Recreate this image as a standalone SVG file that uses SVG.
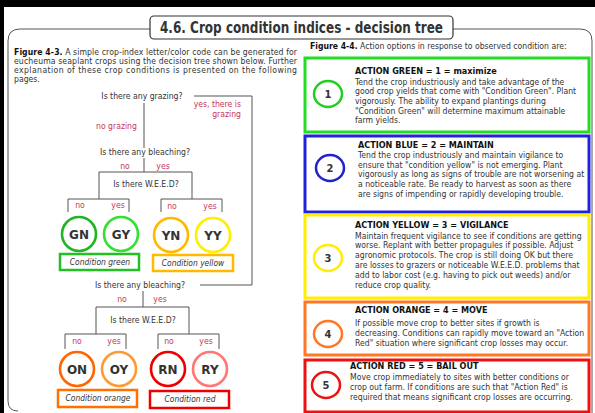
<svg xmlns="http://www.w3.org/2000/svg" width="595" height="413" viewBox="0 0 595 413">
<style>
text{font-family:"DejaVu Sans Condensed","DejaVu Sans",sans-serif;fill:#333}
.t{font-size:8.6px}
.r{font-size:8.6px;fill:#c8365a}
.b{font-size:8.6px}
.h{font-size:9px;font-weight:bold;fill:#111}
.cl{font-size:12px;font-weight:bold;text-anchor:middle;font-family:"DejaVu Sans",sans-serif}
.cap{font-size:8.4px;font-style:italic;text-anchor:middle}
.m{text-anchor:middle}
.ln{fill:none;stroke:#555;stroke-width:1}
.c{fill:#fff;stroke-width:2.6}
.box{fill:#fff;stroke-width:3}
</style>
<rect width="595" height="413" fill="#fff"/>
<rect width="595" height="7" fill="#000"/>
<rect width="4" height="413" fill="#000"/>
<g id="frame">
<path d="M150 29 H20 Q8 29 8 41 V401 Q8 411 18 411" fill="none" stroke="#555" stroke-width="1"/>
<path d="M453 29 H580 Q592 29 592 41 V413" fill="none" stroke="#555" stroke-width="1"/>
<rect x="150" y="16" width="303" height="23" rx="4" fill="#fff" stroke="#333" stroke-width="1.2"/>
<text x="160" y="33" font-size="15" font-weight="bold" fill="#111" textLength="283" lengthAdjust="spacingAndGlyphs" style="font-family:'DejaVu Sans',sans-serif">4.6. Crop condition indices - decision tree</text>
</g>
<g id="caption-left" class="t">
<text x="14" y="55" textLength="283"><tspan font-weight="bold" fill="#111">Figure 4-3.</tspan> A simple crop-index letter/color code can be generated for</text>
<text x="14" y="64" textLength="283">eucheuma seaplant crops using the decision tree shown below. Further</text>
<text x="14" y="73" textLength="283">explanation of these crop conditions is presented on the following</text>
<text x="14" y="82">pages.</text>
</g>
<g id="connectors">
<path class="ln" d="M194 96 H252 V285 H200"/>
<path class="ln" d="M144 103 V148"/>
<path class="ln" d="M144 158 V172"/>
<path class="ln" d="M99 199 V172 H192 V199"/>
<path class="ln" d="M68 212 V199 H129 V212"/>
<path class="ln" d="M161 212 V199 H222 V212"/>
<path class="ln" d="M143 291 V307"/>
<path class="ln" d="M96 334 V307 H189 V334"/>
<path class="ln" d="M65 349 V334 H126 V349"/>
<path class="ln" d="M158 349 V334 H219 V349"/>
</g>
<g id="q-grazing">
<text class="t m" x="142" y="99">Is there any grazing?</text>
<text class="r" x="241" y="107" text-anchor="end">yes, there is</text>
<text class="r" x="241" y="117" text-anchor="end">grazing</text>
<text class="r" x="96" y="129">no grazing</text>
</g>
<g id="q-bleaching-1">
<text class="t m" x="145" y="155">Is there any bleaching?</text>
<text class="r m" x="125" y="169">no</text>
<text class="r m" x="163" y="169">yes</text>
</g>
<g id="q-weed-1">
<text class="t m" x="146" y="187">Is there W.E.E.D?</text>
<text class="r m" x="80" y="208">no</text>
<text class="r m" x="118" y="208">yes</text>
<text class="r m" x="172" y="209">no</text>
<text class="r m" x="210" y="209">yes</text>
</g>
<g id="GN"><circle class="c" cx="79" cy="234" r="17" stroke="#22b522"/><text class="cl" x="79" y="238.5" fill="#22b522">GN</text></g>
<g id="GY"><circle class="c" cx="121" cy="234" r="17" stroke="#33e033"/><text class="cl" x="121" y="238.5" fill="#33d433">GY</text></g>
<g id="YN"><circle class="c" cx="171" cy="235" r="17" stroke="#ffba00"/><text class="cl" x="171" y="239.5" fill="#ffba00">YN</text></g>
<g id="YY"><circle class="c" cx="213" cy="235" r="17" stroke="#ffee00"/><text class="cl" x="213" y="239.5" fill="#f5e000">YY</text></g>
<g id="cond-green"><rect x="60" y="254" width="79" height="16" fill="#fff" stroke="#22c022" stroke-width="2.5"/><text class="cap" x="100" y="265">Condition green</text></g>
<g id="cond-yellow"><rect x="153" y="255" width="80" height="16" fill="#fff" stroke="#ffba00" stroke-width="2.5"/><text class="cap" x="193" y="266">Condition yellow</text></g>
<g id="q-bleaching-2">
<text class="t m" x="140" y="288">Is there any bleaching?</text>
<text class="r m" x="122" y="302">no</text>
<text class="r m" x="160" y="302">yes</text>
</g>
<g id="q-weed-2">
<text class="t m" x="143" y="323">Is there W.E.E.D?</text>
<text class="r m" x="77" y="344">no</text>
<text class="r m" x="114" y="344">yes</text>
<text class="r m" x="169" y="344">no</text>
<text class="r m" x="206" y="344">yes</text>
</g>
<g id="ON"><circle class="c" cx="77" cy="369" r="17" stroke="#ff6600"/><text class="cl" x="77" y="373.5" fill="#ff6600">ON</text></g>
<g id="OY"><circle class="c" cx="119" cy="369" r="17" stroke="#ff9933"/><text class="cl" x="119" y="373.5" fill="#ff8a22">OY</text></g>
<g id="RN"><circle class="c" cx="168" cy="369" r="17" stroke="#ee0000"/><text class="cl" x="168" y="373.5" fill="#ee0000">RN</text></g>
<g id="RY"><circle class="c" cx="210" cy="369" r="17" stroke="#ff7777"/><text class="cl" x="210" y="373.5" fill="#ff5555">RY</text></g>
<g id="cond-orange"><rect x="58" y="390" width="79" height="17" fill="#fff" stroke="#ff7000" stroke-width="2.5"/><text class="cap" x="98" y="401">Condition orange</text></g>
<g id="cond-red"><rect x="150" y="391" width="79" height="17" fill="#fff" stroke="#ee0000" stroke-width="2.5"/><text class="cap" x="190" y="402">Condition red</text></g>
<g id="caption-right"><text class="t" x="310" y="49"><tspan font-weight="bold" fill="#111">Figure 4-4.</tspan> Action options in response to observed condition are:</text></g>
<g id="action-1">
<rect class="box" x="305" y="58" width="284" height="74" stroke="#22dd22"/>
<ellipse cx="328" cy="94" rx="14" ry="13" fill="#fff" stroke="#22cc22" stroke-width="2.5"/>
<text x="328" y="98" font-size="11" font-weight="bold" fill="#22cc22" text-anchor="middle">1</text>
<text class="h" x="355" y="74">ACTION GREEN = 1 = maximize</text>
<text class="b" x="355" y="84.5">Tend the crop industriously and take advantage of the</text>
<text class="b" x="355" y="94.2">good crop yields that come with "Condition Green". Plant</text>
<text class="b" x="355" y="103.9">vigorously. The ability to expand plantings during</text>
<text class="b" x="355" y="113.6">"Condition Green" will determine maximum attainable</text>
<text class="b" x="355" y="123.3">farm yields.</text>
</g>
<g id="action-2">
<rect class="box" x="305" y="136" width="284" height="76" stroke="#2222dd"/>
<ellipse cx="330" cy="168" rx="14" ry="13" fill="#fff" stroke="#2222cc" stroke-width="2.5"/>
<text x="330" y="172" font-size="11" font-weight="bold" fill="#2222cc" text-anchor="middle">2</text>
<text class="h" x="358" y="148">ACTION BLUE = 2 = MAINTAIN</text>
<text class="b" x="358" y="158">Tend the crop industriously and maintain vigilance to</text>
<text class="b" x="358" y="167.7">ensure that "condition yellow" is not emerging. Plant</text>
<text class="b" x="358" y="177.4">vigorously as long as signs of trouble are not worsening at</text>
<text class="b" x="358" y="187.1">a noticeable rate. Be ready to harvest as soon as there</text>
<text class="b" x="358" y="196.8">are signs of impending or rapidly developing trouble.</text>
</g>
<g id="action-3">
<rect class="box" x="305" y="215" width="284" height="83" stroke="#ffee00"/>
<ellipse cx="328" cy="258" rx="14" ry="13" fill="#fff" stroke="#ffee00" stroke-width="2.5"/>
<text x="328" y="262" font-size="11" font-weight="bold" fill="#ffbb00" text-anchor="middle">3</text>
<text class="h" x="355" y="228">ACTION YELLOW = 3 = VIGILANCE</text>
<text class="b" x="355" y="238.5">Maintain frequent vigilance to see if conditions are getting</text>
<text class="b" x="355" y="248.3">worse. Replant with better propagules if possible. Adjust</text>
<text class="b" x="355" y="258.1">agronomic protocols. The crop is still doing OK but there</text>
<text class="b" x="355" y="267.9">are losses to grazers or noticeable W.E.E.D. problems that</text>
<text class="b" x="355" y="277.7">add to labor cost (e.g. having to pick out weeds) and/or</text>
<text class="b" x="355" y="287.5">reduce crop quality.</text>
</g>
<g id="action-4">
<rect class="box" x="305" y="302" width="284" height="53" stroke="#ff7722"/>
<ellipse cx="328" cy="334" rx="14" ry="13" fill="#fff" stroke="#ff7722" stroke-width="2.5"/>
<text x="328" y="338" font-size="11" font-weight="bold" fill="#ff7722" text-anchor="middle">4</text>
<text class="h" x="355" y="313">ACTION ORANGE = 4 = MOVE</text>
<text class="b" x="355" y="326">If possible move crop to better sites if  growth is</text>
<text class="b" x="355" y="336">decreasing. Conditions can rapidly move toward an "Action</text>
<text class="b" x="355" y="346">Red" situation where significant crop losses may occur.</text>
</g>
<g id="action-5">
<rect class="box" x="305" y="360" width="284" height="52" stroke="#ee1111"/>
<ellipse cx="326" cy="385" rx="14" ry="13" fill="#fff" stroke="#ee1111" stroke-width="2.5"/>
<text x="326" y="389" font-size="11" font-weight="bold" fill="#ee1111" text-anchor="middle">5</text>
<text class="h" x="350" y="369">ACTION RED = 5 = BAIL OUT</text>
<text class="b" x="350" y="380">Move crop immediately to sites with better conditions or</text>
<text class="b" x="350" y="390">crop out farm. If conditions are such that "Action Red" is</text>
<text class="b" x="350" y="400">required that means significant crop losses are occurring.</text>
</g>
</svg>
